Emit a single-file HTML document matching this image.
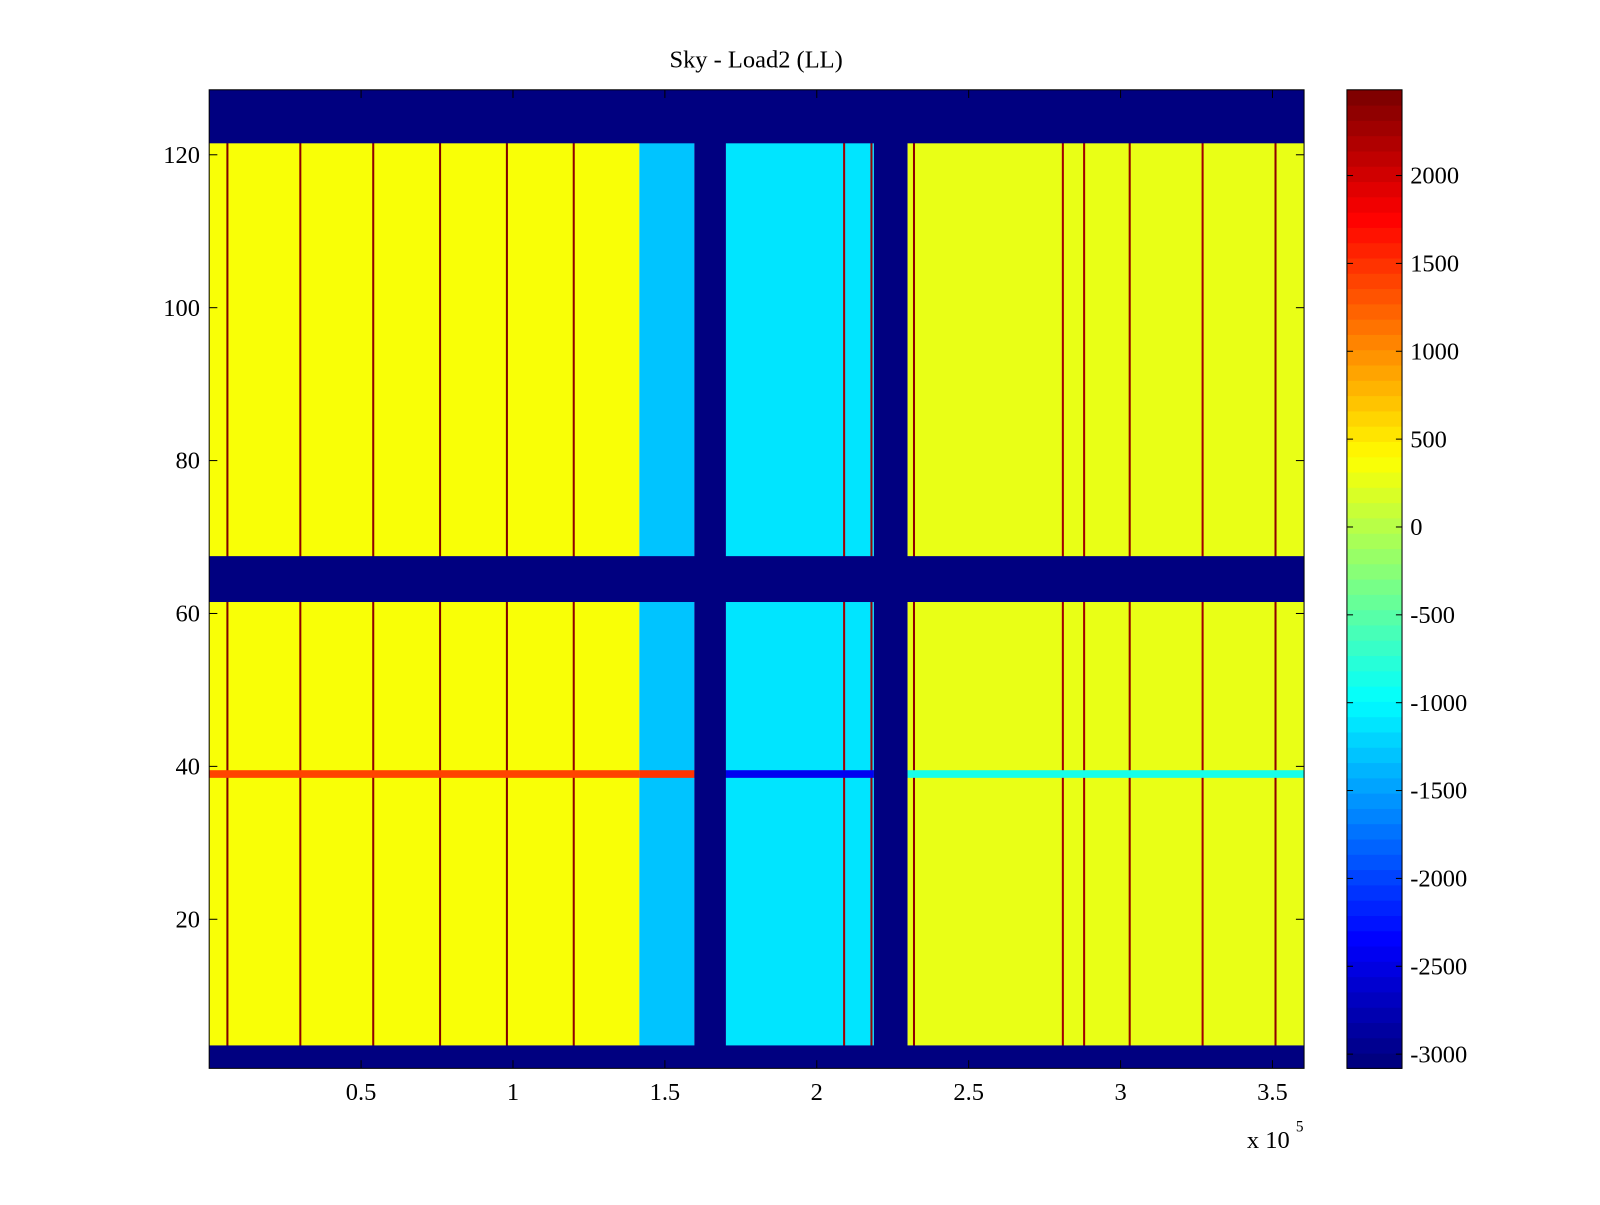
<!DOCTYPE html>
<html><head><meta charset="utf-8"><style>
body{margin:0;background:#fff;}
svg text{font-family:"Liberation Serif",serif;fill:#000;}
</style></head><body>
<svg id="chart" width="1600" height="1200" xmlns="http://www.w3.org/2000/svg">
<rect width="1600" height="1200" fill="#fff"/>
<g transform="scale(1.0204)">
<text x="741" y="66" font-size="24" text-anchor="middle">Sky - Load2 (LL)</text>
<g id="plot"></g>
<g id="axes"></g>
<g id="cbar"></g>
<text x="1222" y="1125" font-size="24">x 10</text>
<text x="1270" y="1109" font-size="15">5</text>
</g>
</svg>
<script>
// ---- data ----
const xMax = 3.604;            // x units of 1e5
const nRows = 128;
const blankRows = [[1,3],[62,67],[122,128]];
const segStart = [0, 1.416, 1.597, 1.701, 2.188, 2.299];
const segEnd   = [1.416, 1.597, 1.701, 2.188, 2.299, 3.604];
const segValue = [350, -1300, -3081, -1100, -3081, 250];
const stripeX = [0.06,0.30,0.54,0.76,0.98,1.20,2.09,2.18,2.32,2.81,2.88,3.03,3.27,3.51];
const stripeValue = [2450,2400,2400,2450,2450,2400,2300,2300,2400,2300,2300,2400,2300,2400];
const row39Value = [1400, 1500, -3081, -2400, -3081, -900];
const xTicks = [0.5,1,1.5,2,2.5,3,3.5];
const xTickLabels = ["0.5","1","1.5","2","2.5","3","3.5"];
const yTicks = [20,40,60,80,100,120];
const cTicks = [2000,1500,1000,500,0,-500,-1000,-1500,-2000,-2500,-3000];
const cMin = -3081, cMax = 2488;

// ---- geometry ----
const L=205,R=1278,T=88,B=1047;
const NS="http://www.w3.org/2000/svg";
const sx = v => L + v/xMax*(R-L);
const sy = v => B - (v-0.5)/nRows*(B-T);
function jet(v){
  let t=(v-cMin)/(cMax-cMin); t=Math.max(0,Math.min(1,t));
  t=Math.floor(t*64)/63; t=Math.min(1,t);
  const f=x=>Math.round(255*Math.max(0,Math.min(1,x)));
  return `rgb(${f(1.5-Math.abs(4*t-3))},${f(1.5-Math.abs(4*t-2))},${f(1.5-Math.abs(4*t-1))})`;
}
function rect(g,x,y,w,h,fill,name){
  const r=document.createElementNS(NS,'rect');
  r.setAttribute('x',x);r.setAttribute('y',y);r.setAttribute('width',w);r.setAttribute('height',h);
  r.setAttribute('fill',fill);
  
  
  g.appendChild(r);return r;
}
function line(g,x1,y1,x2,y2){
  const l=document.createElementNS(NS,'line');
  l.setAttribute('x1',x1);l.setAttribute('y1',y1);l.setAttribute('x2',x2);l.setAttribute('y2',y2);
  l.setAttribute('stroke','#000');l.setAttribute('stroke-width','1');
  g.appendChild(l);
}
function text(g,x,y,s,anchor,name){
  const t=document.createElementNS(NS,'text');
  t.setAttribute('x',x);t.setAttribute('y',y);t.setAttribute('font-size','24');t.setAttribute('text-anchor',anchor);
  t.textContent=s;
  
  
  g.appendChild(t);
}
const plot=document.getElementById('plot');
segStart.forEach((s,i)=>{
  rect(plot,sx(s),T,sx(segEnd[i])-sx(s),B-T,jet(segValue[i]),'heatmap-segment');
});
stripeX.forEach((x,i)=>{
  if(segValue[segStart.findIndex((s,j)=>x>=s&&x<segEnd[j])]<-3000) return;
  rect(plot,sx(x)-1,T,2,B-T,jet(stripeValue[i]),'heatmap-stripe');
});
segStart.forEach((s,i)=>{
  rect(plot,sx(s),sy(39.5),sx(segEnd[i])-sx(s),sy(38.5)-sy(39.5),jet(row39Value[i]),'heatmap-row-39');
});
blankRows.forEach(([a,b])=>{
  rect(plot,L,sy(b+0.5),R-L,sy(a-0.5)-sy(b+0.5),jet(cMin),'heatmap-blank-rows');
});
const axes=document.getElementById('axes');
const fr=rect(axes,L,T,R-L,B-T,'none','plot-frame');fr.setAttribute('stroke','#000');
xTicks.forEach((v,i)=>{const x=sx(v);line(axes,x,B,x,B-8);line(axes,x,T,x,T+8);text(axes,x,1078,xTickLabels[i],'middle','x-tick-label');});
yTicks.forEach(v=>{const y=sy(v);line(axes,L,y,L+8,y);line(axes,R,y,R-8,y);text(axes,196,y+8,String(v),'end','y-tick-label');});
const cb=document.getElementById('cbar');
const CL=1320,CR=1374;
const cy=v=>B-(v-cMin)/(cMax-cMin)*(B-T);
for(let k=0;k<64;k++){
  const v0=cMin+k*(cMax-cMin)/64,v1=cMin+(k+1)*(cMax-cMin)/64;
  rect(cb,CL,cy(v1),CR-CL,cy(v0)-cy(v1)+0.5,jet((v0+v1)/2),'colorbar-level');
}
const cf=rect(cb,CL,T,CR-CL,B-T,'none','colorbar-frame');cf.setAttribute('stroke','#000');
cTicks.forEach(v=>{const y=cy(v);line(cb,CL,y,CL+6,y);line(cb,CR,y,CR-6,y);text(cb,1382,y+8,String(v),'start','colorbar-tick-label');});
</script>
</body></html>
